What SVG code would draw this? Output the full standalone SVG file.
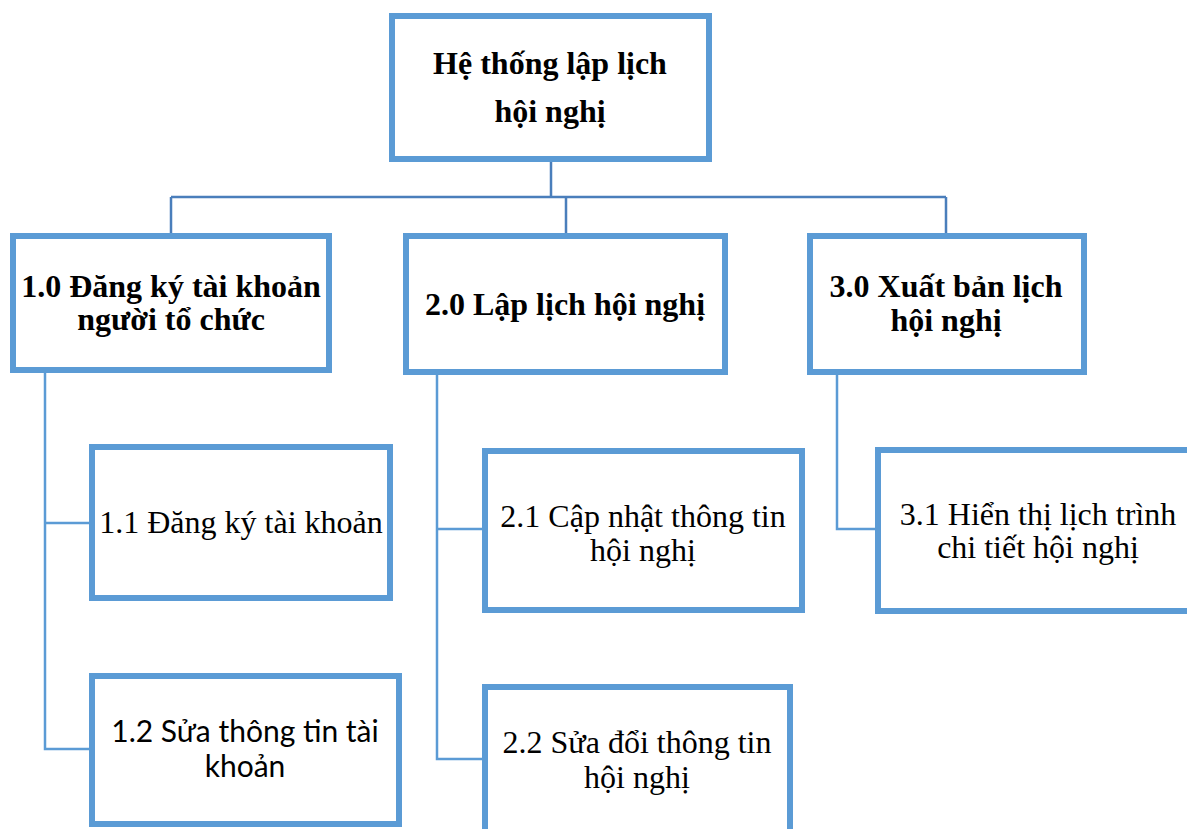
<svg xmlns="http://www.w3.org/2000/svg" width="1187" height="829" viewBox="0 0 1187 829">
  <style>
    .box { fill: #ffffff; stroke: #5b9bd5; stroke-width: 6; }
    .trunk { fill: none; stroke: #4a7ebb; stroke-width: 2.5; }
    .branch { fill: none; stroke: #5b9bd5; stroke-width: 2.5; }
    .bold { font-family: "Liberation Serif", "Times New Roman", serif; font-weight: bold; font-size: 32px; fill: #000; text-anchor: middle; }
    .reg { font-family: "Liberation Serif", "Times New Roman", serif; font-size: 32px; fill: #000; text-anchor: middle; }
    .sans { font-family: Lato, "Noto Sans", sans-serif; font-size: 30px; fill: #000; text-anchor: middle; }
  </style>
  <rect width="1187" height="829" fill="#ffffff"/>

  <!-- tree connectors: trunk from the root, branches down the left of each column -->
  <g id="connectors">
    <path class="trunk" d="M551 162 V197 M171 197 H946 M171 197 V233 M566 197 V233 M946 197 V233"/>
    <path class="branch" d="M45 373 V749 H89 M45 523 H89"/>
    <path class="branch" d="M437 375 V759 H482 M437 529 H482"/>
    <path class="branch" d="M837 375 V529 H875"/>
  </g>

  <g id="node-root">
    <rect class="box" x="392" y="16" width="317" height="143"/>
    <text class="bold" x="550" y="74">Hệ thống lập lịch</text>
    <text class="bold" x="550" y="122">hội nghị</text>
  </g>

  <g id="node-1-0">
    <rect class="box" x="13" y="236" width="316" height="134"/>
    <text class="bold" x="171" y="297">1.0 Đăng ký tài khoản</text>
    <text class="bold" x="171" y="330">người tổ chức</text>
  </g>

  <g id="node-2-0">
    <rect class="box" x="406" y="236" width="319" height="136"/>
    <text class="bold" x="565" y="315">2.0 Lập lịch hội nghị</text>
  </g>

  <g id="node-3-0">
    <rect class="box" x="810" y="236" width="274" height="136"/>
    <text class="bold" x="946" y="297">3.0 Xuất bản lịch</text>
    <text class="bold" x="946" y="331">hội nghị</text>
  </g>

  <g id="node-1-1">
    <rect class="box" x="92" y="447" width="298" height="151"/>
    <text class="reg" x="241" y="533">1.1 Đăng ký tài khoản</text>
  </g>

  <g id="node-1-2">
    <rect class="box" x="92" y="676" width="307" height="148"/>
    <text class="sans" x="245" y="742">1.2 Sửa thông tin tài</text>
    <text class="sans" x="245" y="777">khoản</text>
  </g>

  <g id="node-2-1">
    <rect class="box" x="485" y="451" width="317" height="159"/>
    <text class="reg" x="643" y="527">2.1 Cập nhật thông tin</text>
    <text class="reg" x="643" y="561">hội nghị</text>
  </g>

  <g id="node-2-2">
    <rect class="box" x="485" y="687" width="305" height="170"/>
    <text class="reg" x="637" y="753">2.2 Sửa đổi thông tin</text>
    <text class="reg" x="637" y="788">hội nghị</text>
  </g>

  <g id="node-3-1">
    <rect class="box" x="878" y="450" width="320" height="161"/>
    <text class="reg" x="1038" y="525">3.1 Hiển thị lịch trình</text>
    <text class="reg" x="1038" y="558">chi tiết hội nghị</text>
  </g>
</svg>
